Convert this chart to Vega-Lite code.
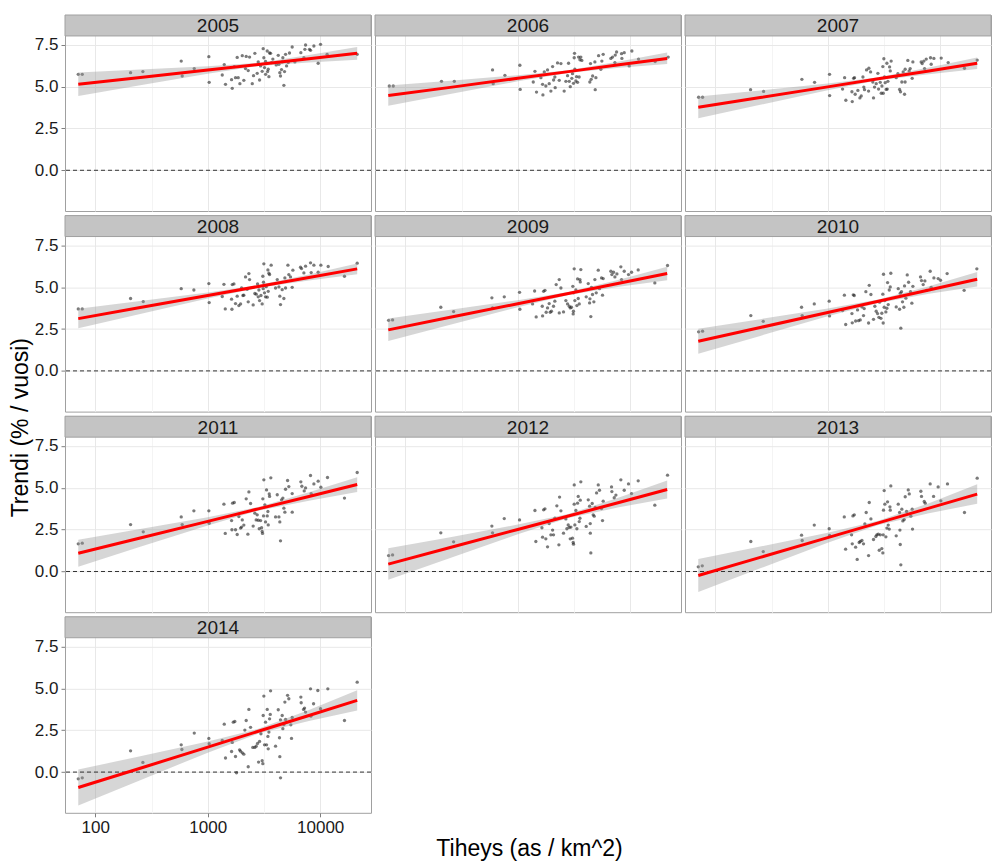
{
"$schema": "https://vega.github.io/schema/vega-lite/v6.json",
"padding": {"left": 9, "top": 14, "right": 5, "bottom": 4},
"title": {"text": "Trendi (% / vuosi)", "orient": "left", "anchor": "middle", "fontSize": 23, "fontWeight": "normal", "color": "#000000", "offset": 1, "dx": 10},
"data": {"values": [
{"year":"2005","x":70.6,"y":5.73},{"year":"2005","x":76.6,"y":5.73},{"year":"2005","x":206,"y":5.83},{"year":"2005","x":265,"y":5.89},{"year":"2005","x":581,"y":6.52},{"year":"2005","x":593,"y":5.63},{"year":"2005","x":759,"y":6.07},{"year":"2005","x":1023,"y":6.78},{"year":"2005","x":1030,"y":5.25},{"year":"2005","x":1346,"y":5.69},{"year":"2005","x":1403,"y":6.31},{"year":"2005","x":1439,"y":5.13},{"year":"2005","x":1629,"y":5.41},{"year":"2005","x":1652,"y":4.89},{"year":"2005","x":1722,"y":6.19},{"year":"2005","x":1766,"y":5.53},{"year":"2005","x":1828,"y":6.74},{"year":"2005","x":1866,"y":5.53},{"year":"2005","x":1932,"y":5.17},{"year":"2005","x":2028,"y":6.84},{"year":"2005","x":2094,"y":5.37},{"year":"2005","x":2168,"y":6.07},{"year":"2005","x":2198,"y":6.80},{"year":"2005","x":2291,"y":5.95},{"year":"2005","x":2355,"y":6.76},{"year":"2005","x":2489,"y":5.17},{"year":"2005","x":2553,"y":5.65},{"year":"2005","x":2624,"y":6.98},{"year":"2005","x":2754,"y":5.79},{"year":"2005","x":2812,"y":6.47},{"year":"2005","x":2891,"y":5.39},{"year":"2005","x":2951,"y":6.23},{"year":"2005","x":3048,"y":5.91},{"year":"2005","x":3112,"y":7.26},{"year":"2005","x":3155,"y":6.72},{"year":"2005","x":3199,"y":6.13},{"year":"2005","x":3266,"y":6.50},{"year":"2005","x":3270,"y":5.73},{"year":"2005","x":3381,"y":7.12},{"year":"2005","x":3404,"y":5.89},{"year":"2005","x":3451,"y":6.03},{"year":"2005","x":3499,"y":5.59},{"year":"2005","x":3548,"y":7.0},{"year":"2005","x":3622,"y":6.98},{"year":"2005","x":3690,"y":6.43},{"year":"2005","x":3793,"y":6.64},{"year":"2005","x":4064,"y":6.29},{"year":"2005","x":4236,"y":6.86},{"year":"2005","x":4295,"y":6.33},{"year":"2005","x":4375,"y":5.83},{"year":"2005","x":4436,"y":5.63},{"year":"2005","x":4529,"y":6.01},{"year":"2005","x":4592,"y":6.47},{"year":"2005","x":4656,"y":6.72},{"year":"2005","x":4753,"y":5.07},{"year":"2005","x":4819,"y":5.89},{"year":"2005","x":4920,"y":6.92},{"year":"2005","x":5023,"y":6.23},{"year":"2005","x":5200,"y":6.43},{"year":"2005","x":5333,"y":7.0},{"year":"2005","x":5636,"y":7.36},{"year":"2005","x":5957,"y":6.47},{"year":"2005","x":6730,"y":7.02},{"year":"2005","x":7161,"y":6.72},{"year":"2005","x":7311,"y":7.22},{"year":"2005","x":7413,"y":7.48},{"year":"2005","x":8035,"y":7.22},{"year":"2005","x":8204,"y":7.16},{"year":"2005","x":8790,"y":7.42},{"year":"2005","x":9594,"y":6.39},{"year":"2005","x":10070,"y":7.52},{"year":"2005","x":11530,"y":6.92},{"year":"2005","x":21330,"y":6.92},
{"year":"2006","x":72.1,"y":5.03},{"year":"2006","x":78.2,"y":5.03},{"year":"2006","x":210,"y":5.31},{"year":"2006","x":273,"y":5.31},{"year":"2006","x":597,"y":5.99},{"year":"2006","x":605,"y":5.17},{"year":"2006","x":769,"y":5.67},{"year":"2006","x":1045,"y":6.27},{"year":"2006","x":1052,"y":4.83},{"year":"2006","x":1374,"y":5.27},{"year":"2006","x":1422,"y":5.91},{"year":"2006","x":1469,"y":4.67},{"year":"2006","x":1607,"y":5.53},{"year":"2006","x":1663,"y":5.13},{"year":"2006","x":1675,"y":4.5},{"year":"2006","x":1722,"y":5.87},{"year":"2006","x":1778,"y":5.03},{"year":"2006","x":1841,"y":5.99},{"year":"2006","x":1905,"y":5.17},{"year":"2006","x":1972,"y":4.73},{"year":"2006","x":2042,"y":6.19},{"year":"2006","x":2084,"y":5.39},{"year":"2006","x":2138,"y":5.57},{"year":"2006","x":2153,"y":4.93},{"year":"2006","x":2259,"y":6.41},{"year":"2006","x":2339,"y":5.37},{"year":"2006","x":2421,"y":6.37},{"year":"2006","x":2588,"y":4.73},{"year":"2006","x":2679,"y":5.31},{"year":"2006","x":2773,"y":5.65},{"year":"2006","x":2831,"y":6.39},{"year":"2006","x":2871,"y":5.31},{"year":"2006","x":2931,"y":4.99},{"year":"2006","x":3027,"y":5.49},{"year":"2006","x":3069,"y":5.77},{"year":"2006","x":3133,"y":5.19},{"year":"2006","x":3177,"y":6.72},{"year":"2006","x":3199,"y":6.98},{"year":"2006","x":3221,"y":6.03},{"year":"2006","x":3289,"y":5.33},{"year":"2006","x":3334,"y":5.59},{"year":"2006","x":3404,"y":5.25},{"year":"2006","x":3475,"y":6.76},{"year":"2006","x":3516,"y":5.57},{"year":"2006","x":3573,"y":6.6},{"year":"2006","x":3639,"y":6.76},{"year":"2006","x":3715,"y":6.56},{"year":"2006","x":4375,"y":5.27},{"year":"2006","x":4436,"y":6.37},{"year":"2006","x":4498,"y":5.43},{"year":"2006","x":4634,"y":5.63},{"year":"2006","x":4853,"y":6.47},{"year":"2006","x":4887,"y":4.81},{"year":"2006","x":4955,"y":5.53},{"year":"2006","x":5236,"y":6.84},{"year":"2006","x":5483,"y":6.03},{"year":"2006","x":5598,"y":6.52},{"year":"2006","x":5754,"y":6.92},{"year":"2006","x":6730,"y":6.68},{"year":"2006","x":6966,"y":6.76},{"year":"2006","x":7311,"y":6.43},{"year":"2006","x":7362,"y":6.88},{"year":"2006","x":7568,"y":7.06},{"year":"2006","x":8375,"y":6.96},{"year":"2006","x":8433,"y":6.68},{"year":"2006","x":8851,"y":7.02},{"year":"2006","x":9795,"y":6.23},{"year":"2006","x":10350,"y":7.12},{"year":"2006","x":11860,"y":6.64},{"year":"2006","x":16670,"y":6.49},{"year":"2006","x":21780,"y":6.76},
{"year":"2007","x":71.1,"y":4.36},{"year":"2007","x":77.1,"y":4.36},{"year":"2007","x":206,"y":4.81},{"year":"2007","x":269,"y":4.71},{"year":"2007","x":589,"y":5.43},{"year":"2007","x":764,"y":5.25},{"year":"2007","x":1038,"y":5.73},{"year":"2007","x":1040,"y":4.46},{"year":"2007","x":1355,"y":4.85},{"year":"2007","x":1413,"y":5.53},{"year":"2007","x":1449,"y":4.18},{"year":"2007","x":1641,"y":4.69},{"year":"2007","x":1652,"y":4.1},{"year":"2007","x":1698,"y":5.49},{"year":"2007","x":1754,"y":4.54},{"year":"2007","x":1730,"y":5.53},{"year":"2007","x":1854,"y":4.77},{"year":"2007","x":1932,"y":4.32},{"year":"2007","x":1986,"y":4.44},{"year":"2007","x":2056,"y":5.57},{"year":"2007","x":2094,"y":4.97},{"year":"2007","x":2123,"y":4.81},{"year":"2007","x":2213,"y":5.99},{"year":"2007","x":2307,"y":4.73},{"year":"2007","x":2323,"y":6.09},{"year":"2007","x":2404,"y":5.87},{"year":"2007","x":2518,"y":5.27},{"year":"2007","x":2553,"y":4.32},{"year":"2007","x":2606,"y":4.97},{"year":"2007","x":2698,"y":5.17},{"year":"2007","x":2793,"y":5.79},{"year":"2007","x":2831,"y":4.85},{"year":"2007","x":2931,"y":5.25},{"year":"2007","x":2992,"y":4.6},{"year":"2007","x":3034,"y":5.03},{"year":"2007","x":3090,"y":6.19},{"year":"2007","x":3112,"y":4.6},{"year":"2007","x":3155,"y":6.66},{"year":"2007","x":3199,"y":5.57},{"year":"2007","x":3243,"y":5.23},{"year":"2007","x":3311,"y":4.83},{"year":"2007","x":3357,"y":6.39},{"year":"2007","x":3381,"y":4.85},{"year":"2007","x":3428,"y":5.31},{"year":"2007","x":3548,"y":6.17},{"year":"2007","x":3597,"y":5.93},{"year":"2007","x":3664,"y":6.52},{"year":"2007","x":4064,"y":5.53},{"year":"2007","x":4207,"y":5.77},{"year":"2007","x":4355,"y":4.83},{"year":"2007","x":4436,"y":4.69},{"year":"2007","x":4560,"y":5.27},{"year":"2007","x":4688,"y":5.87},{"year":"2007","x":4819,"y":4.54},{"year":"2007","x":4875,"y":5.27},{"year":"2007","x":4880,"y":6.03},{"year":"2007","x":5152,"y":6.56},{"year":"2007","x":5297,"y":5.93},{"year":"2007","x":5408,"y":6.07},{"year":"2007","x":5636,"y":5.49},{"year":"2007","x":5715,"y":6.47},{"year":"2007","x":6776,"y":6.47},{"year":"2007","x":6918,"y":6.37},{"year":"2007","x":7161,"y":6.52},{"year":"2007","x":7261,"y":6.07},{"year":"2007","x":7516,"y":6.64},{"year":"2007","x":8204,"y":6.72},{"year":"2007","x":8318,"y":6.33},{"year":"2007","x":8790,"y":6.68},{"year":"2007","x":10210,"y":6.7},{"year":"2007","x":11780,"y":6.43},{"year":"2007","x":16440,"y":6.09},{"year":"2007","x":21330,"y":6.58},
{"year":"2008","x":70.6,"y":3.70},{"year":"2008","x":76.6,"y":3.70},{"year":"2008","x":206,"y":4.32},{"year":"2008","x":267,"y":4.14},{"year":"2008","x":581,"y":4.91},{"year":"2008","x":753,"y":4.83},{"year":"2008","x":1023,"y":5.21},{"year":"2008","x":1030,"y":4.08},{"year":"2008","x":1346,"y":4.44},{"year":"2008","x":1393,"y":5.17},{"year":"2008","x":1432,"y":3.70},{"year":"2008","x":1629,"y":4.28},{"year":"2008","x":1641,"y":3.68},{"year":"2008","x":1652,"y":5.15},{"year":"2008","x":1710,"y":5.19},{"year":"2008","x":1766,"y":4.02},{"year":"2008","x":1828,"y":4.46},{"year":"2008","x":1892,"y":3.90},{"year":"2008","x":1959,"y":4.0},{"year":"2008","x":2000,"y":4.95},{"year":"2008","x":2056,"y":4.5},{"year":"2008","x":2094,"y":4.52},{"year":"2008","x":2168,"y":5.61},{"year":"2008","x":2244,"y":4.87},{"year":"2008","x":2323,"y":5.81},{"year":"2008","x":2355,"y":5.45},{"year":"2008","x":2291,"y":4.12},{"year":"2008","x":2535,"y":3.94},{"year":"2008","x":2624,"y":4.62},{"year":"2008","x":2698,"y":4.58},{"year":"2008","x":2773,"y":5.19},{"year":"2008","x":2812,"y":4.42},{"year":"2008","x":2851,"y":4.83},{"year":"2008","x":2891,"y":4.20},{"year":"2008","x":2972,"y":4.5},{"year":"2008","x":3048,"y":4.0},{"year":"2008","x":3090,"y":5.65},{"year":"2008","x":3112,"y":4.91},{"year":"2008","x":3133,"y":5.29},{"year":"2008","x":3155,"y":6.39},{"year":"2008","x":3199,"y":4.66},{"year":"2008","x":3266,"y":4.42},{"year":"2008","x":3311,"y":5.03},{"year":"2008","x":3381,"y":4.4},{"year":"2008","x":3428,"y":6.03},{"year":"2008","x":3451,"y":4.75},{"year":"2008","x":3499,"y":5.83},{"year":"2008","x":3548,"y":5.75},{"year":"2008","x":3664,"y":6.31},{"year":"2008","x":4009,"y":4.95},{"year":"2008","x":4150,"y":5.45},{"year":"2008","x":4295,"y":5.01},{"year":"2008","x":4375,"y":4.46},{"year":"2008","x":4436,"y":3.96},{"year":"2008","x":4592,"y":4.85},{"year":"2008","x":4753,"y":4.32},{"year":"2008","x":4853,"y":5.55},{"year":"2008","x":4920,"y":4.95},{"year":"2008","x":5164,"y":6.31},{"year":"2008","x":5260,"y":5.75},{"year":"2008","x":5445,"y":5.61},{"year":"2008","x":5636,"y":4.99},{"year":"2008","x":5715,"y":6.01},{"year":"2008","x":6683,"y":6.19},{"year":"2008","x":6823,"y":6.11},{"year":"2008","x":7161,"y":5.85},{"year":"2008","x":7413,"y":6.25},{"year":"2008","x":8204,"y":6.45},{"year":"2008","x":8318,"y":5.87},{"year":"2008","x":8790,"y":6.31},{"year":"2008","x":9594,"y":5.89},{"year":"2008","x":10140,"y":6.31},{"year":"2008","x":11780,"y":6.23},{"year":"2008","x":16440,"y":5.65},{"year":"2008","x":21330,"y":6.43},
{"year":"2009","x":71.1,"y":3.02},{"year":"2009","x":77.1,"y":3.04},{"year":"2009","x":207,"y":3.80},{"year":"2009","x":269,"y":3.54},{"year":"2009","x":589,"y":4.36},{"year":"2009","x":597,"y":3.76},{"year":"2009","x":759,"y":4.42},{"year":"2009","x":1038,"y":4.69},{"year":"2009","x":1045,"y":3.68},{"year":"2009","x":1355,"y":4.0},{"year":"2009","x":1413,"y":4.77},{"year":"2009","x":1459,"y":3.22},{"year":"2009","x":1652,"y":3.86},{"year":"2009","x":1663,"y":3.28},{"year":"2009","x":1698,"y":4.75},{"year":"2009","x":1746,"y":4.81},{"year":"2009","x":1791,"y":3.50},{"year":"2009","x":1841,"y":3.76},{"year":"2009","x":1905,"y":4.02},{"year":"2009","x":1945,"y":3.50},{"year":"2009","x":1995,"y":3.56},{"year":"2009","x":2080,"y":3.86},{"year":"2009","x":2138,"y":4.16},{"year":"2009","x":2198,"y":5.15},{"year":"2009","x":2339,"y":5.45},{"year":"2009","x":2340,"y":3.46},{"year":"2009","x":2421,"y":4.95},{"year":"2009","x":2553,"y":3.52},{"year":"2009","x":2679,"y":4.20},{"year":"2009","x":2773,"y":4.0},{"year":"2009","x":2871,"y":3.86},{"year":"2009","x":2931,"y":3.76},{"year":"2009","x":3006,"y":3.8},{"year":"2009","x":3090,"y":5.05},{"year":"2009","x":3112,"y":3.40},{"year":"2009","x":3133,"y":4.66},{"year":"2009","x":3177,"y":6.09},{"year":"2009","x":3130,"y":3.56},{"year":"2009","x":3221,"y":4.20},{"year":"2009","x":3289,"y":4.83},{"year":"2009","x":3357,"y":3.9},{"year":"2009","x":3404,"y":5.49},{"year":"2009","x":3451,"y":4.32},{"year":"2009","x":3524,"y":4.0},{"year":"2009","x":3573,"y":5.45},{"year":"2009","x":3639,"y":6.05},{"year":"2009","x":3597,"y":5.31},{"year":"2009","x":4064,"y":4.42},{"year":"2009","x":4236,"y":5.21},{"year":"2009","x":4355,"y":4.06},{"year":"2009","x":4385,"y":4.30},{"year":"2009","x":4467,"y":3.24},{"year":"2009","x":4529,"y":4.99},{"year":"2009","x":4624,"y":4.56},{"year":"2009","x":4753,"y":4.12},{"year":"2009","x":4853,"y":5.45},{"year":"2009","x":4989,"y":4.66},{"year":"2009","x":5200,"y":6.01},{"year":"2009","x":5333,"y":4.91},{"year":"2009","x":5559,"y":5.55},{"year":"2009","x":5675,"y":4.52},{"year":"2009","x":5754,"y":5.51},{"year":"2009","x":6730,"y":5.95},{"year":"2009","x":6871,"y":5.75},{"year":"2009","x":7112,"y":5.89},{"year":"2009","x":7311,"y":5.61},{"year":"2009","x":7621,"y":5.79},{"year":"2009","x":8260,"y":6.21},{"year":"2009","x":8375,"y":5.45},{"year":"2009","x":8851,"y":5.95},{"year":"2009","x":9661,"y":5.75},{"year":"2009","x":10280,"y":5.89},{"year":"2009","x":11780,"y":6.03},{"year":"2009","x":16560,"y":5.25},{"year":"2009","x":21480,"y":6.29},
{"year":"2010","x":71.1,"y":2.33},{"year":"2010","x":77.1,"y":2.37},{"year":"2010","x":207,"y":3.30},{"year":"2010","x":267,"y":2.96},{"year":"2010","x":585,"y":3.80},{"year":"2010","x":593,"y":3.30},{"year":"2010","x":759,"y":4.0},{"year":"2010","x":1030,"y":4.16},{"year":"2010","x":1038,"y":3.28},{"year":"2010","x":1406,"y":4.52},{"year":"2010","x":1355,"y":3.60},{"year":"2010","x":1445,"y":2.77},{"year":"2010","x":1641,"y":3.42},{"year":"2010","x":1652,"y":2.87},{"year":"2010","x":1687,"y":4.54},{"year":"2010","x":1722,"y":4.50},{"year":"2010","x":1770,"y":2.98},{"year":"2010","x":1841,"y":3.64},{"year":"2010","x":1879,"y":3.0},{"year":"2010","x":1945,"y":3.04},{"year":"2010","x":2014,"y":3.82},{"year":"2010","x":2080,"y":3.30},{"year":"2010","x":2109,"y":3.72},{"year":"2010","x":2183,"y":4.73},{"year":"2010","x":2307,"y":2.86},{"year":"2010","x":2339,"y":5.11},{"year":"2010","x":2421,"y":4.56},{"year":"2010","x":2553,"y":3.08},{"year":"2010","x":2624,"y":3.86},{"year":"2010","x":2698,"y":3.56},{"year":"2010","x":2773,"y":3.42},{"year":"2010","x":2851,"y":3.20},{"year":"2010","x":2891,"y":4.10},{"year":"2010","x":2972,"y":3.14},{"year":"2010","x":3027,"y":3.44},{"year":"2010","x":3090,"y":4.58},{"year":"2010","x":3112,"y":2.86},{"year":"2010","x":3133,"y":5.77},{"year":"2010","x":3177,"y":3.80},{"year":"2010","x":3221,"y":4.20},{"year":"2010","x":3289,"y":3.52},{"year":"2010","x":3357,"y":3.74},{"year":"2010","x":3404,"y":5.27},{"year":"2010","x":3451,"y":3.96},{"year":"2010","x":3524,"y":4.83},{"year":"2010","x":3597,"y":5.01},{"year":"2010","x":3639,"y":5.83},{"year":"2010","x":4064,"y":3.82},{"year":"2010","x":4236,"y":4.91},{"year":"2010","x":4355,"y":3.68},{"year":"2010","x":4416,"y":4.64},{"year":"2010","x":4467,"y":2.55},{"year":"2010","x":4529,"y":4.73},{"year":"2010","x":4624,"y":4.12},{"year":"2010","x":4753,"y":3.80},{"year":"2010","x":4819,"y":5.07},{"year":"2010","x":4955,"y":4.34},{"year":"2010","x":5093,"y":5.73},{"year":"2010","x":5236,"y":5.29},{"year":"2010","x":5445,"y":4.73},{"year":"2010","x":5598,"y":4.04},{"year":"2010","x":5715,"y":5.05},{"year":"2010","x":6683,"y":5.61},{"year":"2010","x":6823,"y":5.39},{"year":"2010","x":7063,"y":5.15},{"year":"2010","x":7311,"y":5.37},{"year":"2010","x":7568,"y":4.81},{"year":"2010","x":8147,"y":5.95},{"year":"2010","x":8318,"y":4.99},{"year":"2010","x":8790,"y":5.55},{"year":"2010","x":9594,"y":5.51},{"year":"2010","x":10070,"y":5.41},{"year":"2010","x":11530,"y":5.81},{"year":"2010","x":16330,"y":4.81},{"year":"2010","x":21180,"y":6.09},
{"year":"2011","x":70.6,"y":1.65},{"year":"2011","x":76.6,"y":1.69},{"year":"2011","x":206,"y":2.80},{"year":"2011","x":267,"y":2.37},{"year":"2011","x":581,"y":3.26},{"year":"2011","x":593,"y":2.80},{"year":"2011","x":753,"y":3.62},{"year":"2011","x":1023,"y":3.62},{"year":"2011","x":1030,"y":2.88},{"year":"2011","x":1393,"y":4.02},{"year":"2011","x":1432,"y":2.27},{"year":"2011","x":1629,"y":3.04},{"year":"2011","x":1641,"y":2.49},{"year":"2011","x":1663,"y":4.08},{"year":"2011","x":1722,"y":4.12},{"year":"2011","x":1766,"y":2.49},{"year":"2011","x":1828,"y":2.21},{"year":"2011","x":1892,"y":3.28},{"year":"2011","x":1959,"y":2.59},{"year":"2011","x":2000,"y":2.65},{"year":"2011","x":2028,"y":3.08},{"year":"2011","x":2094,"y":2.77},{"year":"2011","x":2198,"y":4.34},{"year":"2011","x":2275,"y":2.23},{"year":"2011","x":2323,"y":4.75},{"year":"2011","x":2404,"y":4.06},{"year":"2011","x":2535,"y":2.71},{"year":"2011","x":2624,"y":3.48},{"year":"2011","x":2698,"y":3.08},{"year":"2011","x":2754,"y":3.38},{"year":"2011","x":2812,"y":3.06},{"year":"2011","x":2871,"y":2.55},{"year":"2011","x":2951,"y":3.04},{"year":"2011","x":3013,"y":2.61},{"year":"2011","x":3048,"y":2.39},{"year":"2011","x":3069,"y":2.27},{"year":"2011","x":3090,"y":4.34},{"year":"2011","x":3133,"y":3.32},{"year":"2011","x":3155,"y":5.47},{"year":"2011","x":3221,"y":3.98},{"year":"2011","x":3266,"y":2.96},{"year":"2011","x":3334,"y":4.87},{"year":"2011","x":3381,"y":3.32},{"year":"2011","x":3428,"y":3.58},{"year":"2011","x":3451,"y":2.78},{"year":"2011","x":3524,"y":4.63},{"year":"2011","x":3548,"y":4.48},{"year":"2011","x":3639,"y":5.59},{"year":"2011","x":4009,"y":3.26},{"year":"2011","x":4150,"y":4.58},{"year":"2011","x":4295,"y":3.26},{"year":"2011","x":4375,"y":2.96},{"year":"2011","x":4436,"y":1.83},{"year":"2011","x":4529,"y":4.28},{"year":"2011","x":4656,"y":4.38},{"year":"2011","x":4753,"y":3.78},{"year":"2011","x":4853,"y":3.54},{"year":"2011","x":4920,"y":4.91},{"year":"2011","x":5129,"y":5.43},{"year":"2011","x":5260,"y":5.07},{"year":"2011","x":5636,"y":4.65},{"year":"2011","x":5640,"y":3.54},{"year":"2011","x":6730,"y":5.35},{"year":"2011","x":6871,"y":5.09},{"year":"2011","x":7211,"y":4.81},{"year":"2011","x":7413,"y":4.99},{"year":"2011","x":8204,"y":5.73},{"year":"2011","x":8318,"y":4.65},{"year":"2011","x":8790,"y":5.23},{"year":"2011","x":9594,"y":5.39},{"year":"2011","x":10140,"y":5.03},{"year":"2011","x":11610,"y":5.61},{"year":"2011","x":16440,"y":4.38},{"year":"2011","x":21330,"y":5.91},
{"year":"2012","x":71.1,"y":0.95},{"year":"2012","x":77.1,"y":0.99},{"year":"2012","x":207,"y":2.31},{"year":"2012","x":269,"y":1.77},{"year":"2012","x":589,"y":2.71},{"year":"2012","x":597,"y":2.31},{"year":"2012","x":759,"y":3.16},{"year":"2012","x":1038,"y":3.08},{"year":"2012","x":1422,"y":3.64},{"year":"2012","x":1449,"y":1.79},{"year":"2012","x":1641,"y":2.61},{"year":"2012","x":1663,"y":2.05},{"year":"2012","x":1698,"y":3.68},{"year":"2012","x":1746,"y":3.74},{"year":"2012","x":1778,"y":1.95},{"year":"2012","x":1841,"y":1.47},{"year":"2012","x":1905,"y":2.86},{"year":"2012","x":1972,"y":2.19},{"year":"2012","x":2042,"y":2.47},{"year":"2012","x":2080,"y":2.19},{"year":"2012","x":2138,"y":3.18},{"year":"2012","x":2228,"y":3.92},{"year":"2012","x":2323,"y":1.59},{"year":"2012","x":2355,"y":4.44},{"year":"2012","x":2421,"y":3.62},{"year":"2012","x":2553,"y":2.29},{"year":"2012","x":2679,"y":3.14},{"year":"2012","x":2735,"y":2.55},{"year":"2012","x":2812,"y":2.78},{"year":"2012","x":2871,"y":2.63},{"year":"2012","x":2931,"y":1.95},{"year":"2012","x":2972,"y":2.65},{"year":"2012","x":3069,"y":1.99},{"year":"2012","x":3112,"y":1.73},{"year":"2012","x":3133,"y":1.63},{"year":"2012","x":3177,"y":4.02},{"year":"2012","x":3180,"y":5.17},{"year":"2012","x":3221,"y":2.78},{"year":"2012","x":3289,"y":3.64},{"year":"2012","x":3357,"y":2.55},{"year":"2012","x":3404,"y":4.08},{"year":"2012","x":3451,"y":4.48},{"year":"2012","x":3524,"y":2.98},{"year":"2012","x":3573,"y":3.18},{"year":"2012","x":3597,"y":4.26},{"year":"2012","x":3639,"y":5.35},{"year":"2012","x":4064,"y":2.69},{"year":"2012","x":4236,"y":4.28},{"year":"2012","x":4355,"y":3.9},{"year":"2012","x":4416,"y":2.86},{"year":"2012","x":4420,"y":2.29},{"year":"2012","x":4467,"y":1.11},{"year":"2012","x":4592,"y":4.06},{"year":"2012","x":4688,"y":3.38},{"year":"2012","x":4786,"y":3.30},{"year":"2012","x":4887,"y":3.82},{"year":"2012","x":5023,"y":4.69},{"year":"2012","x":5200,"y":5.17},{"year":"2012","x":5333,"y":4.85},{"year":"2012","x":5559,"y":3.76},{"year":"2012","x":5675,"y":3.04},{"year":"2012","x":5754,"y":4.2},{"year":"2012","x":6823,"y":5.05},{"year":"2012","x":6871,"y":4.77},{"year":"2012","x":7211,"y":4.40},{"year":"2012","x":7464,"y":4.56},{"year":"2012","x":8260,"y":5.47},{"year":"2012","x":8851,"y":4.85},{"year":"2012","x":9661,"y":5.23},{"year":"2012","x":10280,"y":4.65},{"year":"2012","x":11780,"y":5.41},{"year":"2012","x":16560,"y":3.96},{"year":"2012","x":21480,"y":5.75},
{"year":"2013","x":70.6,"y":0.28},{"year":"2013","x":76.6,"y":0.34},{"year":"2013","x":207,"y":1.79},{"year":"2013","x":267,"y":1.19},{"year":"2013","x":585,"y":2.17},{"year":"2013","x":593,"y":1.85},{"year":"2013","x":759,"y":2.77},{"year":"2013","x":1030,"y":2.55},{"year":"2013","x":1038,"y":2.15},{"year":"2013","x":1403,"y":3.26},{"year":"2013","x":1442,"y":1.33},{"year":"2013","x":1629,"y":2.19},{"year":"2013","x":1652,"y":1.65},{"year":"2013","x":1675,"y":3.32},{"year":"2013","x":1722,"y":3.38},{"year":"2013","x":1770,"y":1.45},{"year":"2013","x":1828,"y":0.72},{"year":"2013","x":1905,"y":1.73},{"year":"2013","x":1945,"y":1.79},{"year":"2013","x":2014,"y":1.85},{"year":"2013","x":2080,"y":1.65},{"year":"2013","x":2138,"y":2.84},{"year":"2013","x":2198,"y":3.52},{"year":"2013","x":2307,"y":0.95},{"year":"2013","x":2339,"y":4.12},{"year":"2013","x":2421,"y":3.14},{"year":"2013","x":2553,"y":1.91},{"year":"2013","x":2679,"y":2.09},{"year":"2013","x":2735,"y":2.19},{"year":"2013","x":2812,"y":2.23},{"year":"2013","x":2871,"y":1.27},{"year":"2013","x":2931,"y":2.19},{"year":"2013","x":3027,"y":1.37},{"year":"2013","x":3090,"y":1.11},{"year":"2013","x":3112,"y":2.19},{"year":"2013","x":3133,"y":3.66},{"year":"2013","x":3177,"y":4.83},{"year":"2013","x":3221,"y":4.02},{"year":"2013","x":3289,"y":2.07},{"year":"2013","x":3357,"y":2.59},{"year":"2013","x":3404,"y":4.16},{"year":"2013","x":3451,"y":2.77},{"year":"2013","x":3524,"y":2.53},{"year":"2013","x":3573,"y":3.86},{"year":"2013","x":3597,"y":3.66},{"year":"2013","x":3639,"y":5.11},{"year":"2013","x":4064,"y":2.13},{"year":"2013","x":4236,"y":4.02},{"year":"2013","x":4355,"y":3.52},{"year":"2013","x":4385,"y":2.47},{"year":"2013","x":4416,"y":1.61},{"year":"2013","x":4467,"y":0.4},{"year":"2013","x":4560,"y":3.72},{"year":"2013","x":4656,"y":3.02},{"year":"2013","x":4786,"y":3.10},{"year":"2013","x":4887,"y":4.46},{"year":"2013","x":5023,"y":3.58},{"year":"2013","x":5200,"y":4.87},{"year":"2013","x":5309,"y":4.63},{"year":"2013","x":5483,"y":3.30},{"year":"2013","x":5636,"y":3.72},{"year":"2013","x":5675,"y":2.53},{"year":"2013","x":6730,"y":4.79},{"year":"2013","x":6823,"y":4.48},{"year":"2013","x":7211,"y":4.18},{"year":"2013","x":7362,"y":4.08},{"year":"2013","x":8147,"y":5.23},{"year":"2013","x":8730,"y":4.48},{"year":"2013","x":9594,"y":5.05},{"year":"2013","x":10140,"y":4.22},{"year":"2013","x":11610,"y":5.23},{"year":"2013","x":16440,"y":3.52},{"year":"2013","x":21330,"y":5.57},
{"year":"2014","x":70.6,"y":-0.40},{"year":"2014","x":76.6,"y":-0.34},{"year":"2014","x":206,"y":1.27},{"year":"2014","x":265,"y":0.58},{"year":"2014","x":581,"y":1.63},{"year":"2014","x":589,"y":1.35},{"year":"2014","x":759,"y":2.33},{"year":"2014","x":1023,"y":2.01},{"year":"2014","x":1030,"y":1.69},{"year":"2014","x":1346,"y":1.89},{"year":"2014","x":1403,"y":2.86},{"year":"2014","x":1439,"y":0.84},{"year":"2014","x":1629,"y":1.23},{"year":"2014","x":1652,"y":1.77},{"year":"2014","x":1687,"y":2.98},{"year":"2014","x":1742,"y":3.02},{"year":"2014","x":1766,"y":0.93},{"year":"2014","x":1803,"y":-0.04},{"year":"2014","x":1919,"y":1.33},{"year":"2014","x":1959,"y":1.25},{"year":"2014","x":2028,"y":1.15},{"year":"2014","x":2094,"y":1.07},{"year":"2014","x":2138,"y":2.51},{"year":"2014","x":2198,"y":3.08},{"year":"2014","x":2291,"y":0.32},{"year":"2014","x":2323,"y":3.74},{"year":"2014","x":2404,"y":2.67},{"year":"2014","x":2518,"y":1.47},{"year":"2014","x":2624,"y":1.47},{"year":"2014","x":2698,"y":1.55},{"year":"2014","x":2773,"y":1.71},{"year":"2014","x":2831,"y":0.60},{"year":"2014","x":2891,"y":1.83},{"year":"2014","x":2972,"y":2.29},{"year":"2014","x":3048,"y":0.68},{"year":"2014","x":3090,"y":0.50},{"year":"2014","x":3112,"y":3.38},{"year":"2014","x":3155,"y":4.54},{"year":"2014","x":3199,"y":1.63},{"year":"2014","x":3266,"y":2.98},{"year":"2014","x":3334,"y":1.63},{"year":"2014","x":3381,"y":3.74},{"year":"2014","x":3428,"y":2.13},{"year":"2014","x":3451,"y":1.39},{"year":"2014","x":3499,"y":2.39},{"year":"2014","x":3548,"y":3.18},{"year":"2014","x":3622,"y":4.85},{"year":"2014","x":3597,"y":3.44},{"year":"2014","x":4009,"y":1.55},{"year":"2014","x":4236,"y":3.72},{"year":"2014","x":4345,"y":2.05},{"year":"2014","x":4375,"y":0.92},{"year":"2014","x":4436,"y":3.12},{"year":"2014","x":4440,"y":-0.34},{"year":"2014","x":4592,"y":3.38},{"year":"2014","x":4656,"y":2.59},{"year":"2014","x":4753,"y":2.84},{"year":"2014","x":4853,"y":4.18},{"year":"2014","x":4920,"y":3.14},{"year":"2014","x":5129,"y":4.58},{"year":"2014","x":5260,"y":4.38},{"year":"2014","x":5483,"y":2.82},{"year":"2014","x":5559,"y":2.01},{"year":"2014","x":5636,"y":3.26},{"year":"2014","x":6730,"y":4.48},{"year":"2014","x":6776,"y":4.14},{"year":"2014","x":7112,"y":3.74},{"year":"2014","x":7261,"y":3.82},{"year":"2014","x":7413,"y":3.58},{"year":"2014","x":8204,"y":4.97},{"year":"2014","x":8260,"y":3.34},{"year":"2014","x":8730,"y":4.08},{"year":"2014","x":9528,"y":4.87},{"year":"2014","x":10070,"y":3.78},{"year":"2014","x":11690,"y":4.97},{"year":"2014","x":16440,"y":3.08},{"year":"2014","x":21330,"y":5.37},
{"year":"2005","x":70.6,"fit":5.13,"lo":4.43,"hi":5.84},{"year":"2005","x":251,"fit":5.54,"lo":5.07,"hi":6.01},{"year":"2005","x":1000,"fit":5.99,"lo":5.77,"hi":6.21},{"year":"2005","x":2818,"fit":6.32,"lo":6.23,"hi":6.41},{"year":"2005","x":7943,"fit":6.66,"lo":6.44,"hi":6.88},{"year":"2005","x":21330,"fit":6.98,"lo":6.60,"hi":7.36},
{"year":"2006","x":70.6,"fit":4.46,"lo":3.86,"hi":5.06},{"year":"2006","x":251,"fit":4.95,"lo":4.55,"hi":5.35},{"year":"2006","x":1000,"fit":5.49,"lo":5.31,"hi":5.68},{"year":"2006","x":2818,"fit":5.89,"lo":5.81,"hi":5.97},{"year":"2006","x":7943,"fit":6.30,"lo":6.12,"hi":6.49},{"year":"2006","x":21330,"fit":6.68,"lo":6.34,"hi":7.03},
{"year":"2007","x":70.6,"fit":3.76,"lo":3.11,"hi":4.41},{"year":"2007","x":251,"fit":4.34,"lo":3.91,"hi":4.77},{"year":"2007","x":1000,"fit":4.98,"lo":4.78,"hi":5.18},{"year":"2007","x":2818,"fit":5.46,"lo":5.37,"hi":5.55},{"year":"2007","x":7943,"fit":5.93,"lo":5.73,"hi":6.13},{"year":"2007","x":21330,"fit":6.39,"lo":6.05,"hi":6.74},
{"year":"2008","x":70.6,"fit":3.12,"lo":2.54,"hi":3.71},{"year":"2008","x":251,"fit":3.78,"lo":3.39,"hi":4.17},{"year":"2008","x":1000,"fit":4.50,"lo":4.32,"hi":4.68},{"year":"2008","x":2818,"fit":5.04,"lo":4.96,"hi":5.12},{"year":"2008","x":7943,"fit":5.58,"lo":5.40,"hi":5.76},{"year":"2008","x":21330,"fit":6.09,"lo":5.77,"hi":6.41},
{"year":"2009","x":70.6,"fit":2.45,"lo":1.78,"hi":3.13},{"year":"2009","x":251,"fit":3.20,"lo":2.75,"hi":3.65},{"year":"2009","x":1000,"fit":4.01,"lo":3.80,"hi":4.22},{"year":"2009","x":2818,"fit":4.62,"lo":4.53,"hi":4.71},{"year":"2009","x":7943,"fit":5.23,"lo":5.02,"hi":5.44},{"year":"2009","x":21330,"fit":5.81,"lo":5.41,"hi":6.21},
{"year":"2010","x":70.6,"fit":1.77,"lo":1.02,"hi":2.52},{"year":"2010","x":251,"fit":2.59,"lo":2.09,"hi":3.09},{"year":"2010","x":1000,"fit":3.49,"lo":3.26,"hi":3.72},{"year":"2010","x":2818,"fit":4.16,"lo":4.06,"hi":4.26},{"year":"2010","x":7943,"fit":4.83,"lo":4.60,"hi":5.06},{"year":"2010","x":21330,"fit":5.47,"lo":5.04,"hi":5.90},
{"year":"2011","x":70.6,"fit":1.09,"lo":0.29,"hi":1.90},{"year":"2011","x":251,"fit":2.00,"lo":1.47,"hi":2.54},{"year":"2011","x":1000,"fit":2.99,"lo":2.74,"hi":3.24},{"year":"2011","x":2818,"fit":3.74,"lo":3.63,"hi":3.85},{"year":"2011","x":7943,"fit":4.48,"lo":4.23,"hi":4.73},{"year":"2011","x":21330,"fit":5.19,"lo":4.75,"hi":5.63},
{"year":"2012","x":70.6,"fit":0.44,"lo":-0.50,"hi":1.38},{"year":"2012","x":251,"fit":1.43,"lo":0.81,"hi":2.05},{"year":"2012","x":1000,"fit":2.51,"lo":2.22,"hi":2.80},{"year":"2012","x":2818,"fit":3.31,"lo":3.19,"hi":3.43},{"year":"2012","x":7943,"fit":4.12,"lo":3.83,"hi":4.41},{"year":"2012","x":21330,"fit":4.89,"lo":4.36,"hi":5.43},
{"year":"2013","x":70.6,"fit":-0.24,"lo":-1.23,"hi":0.75},{"year":"2013","x":251,"fit":0.84,"lo":0.19,"hi":1.49},{"year":"2013","x":1000,"fit":2.02,"lo":1.72,"hi":2.32},{"year":"2013","x":2818,"fit":2.90,"lo":2.77,"hi":3.03},{"year":"2013","x":7943,"fit":3.78,"lo":3.48,"hi":4.08},{"year":"2013","x":21330,"fit":4.62,"lo":4.04,"hi":5.21},
{"year":"2014","x":70.6,"fit":-0.92,"lo":-2.00,"hi":0.16},{"year":"2014","x":251,"fit":0.23,"lo":-0.48,"hi":0.94},{"year":"2014","x":1000,"fit":1.49,"lo":1.16,"hi":1.82},{"year":"2014","x":2818,"fit":2.44,"lo":2.30,"hi":2.58},{"year":"2014","x":7943,"fit":3.38,"lo":3.05,"hi":3.71},{"year":"2014","x":21330,"fit":4.28,"lo":3.68,"hi":4.89}
]},
"vconcat": [
{"hconcat": [
{"width":306,"height":196,"transform":[{"filter":"datum.year=='2005'"}],"layer":[
{"transform":[{"filter":"datum.y!=null"}],"mark":{"type":"circle","size":11,"color":"#222222","opacity":0.6},"encoding":{"x":{"field":"x","type":"quantitative","title":null,"scale":{"type":"log","domain":[53.8,28300],"nice":false},"axis":{"values":[100,316.2278,1000,3162.278,10000],"labels":false,"ticks":false,"domain":false,"gridColor":{"condition":{"test":"datum.value!=100&&datum.value!=1000&&datum.value!=10000","value":"#f4f4f4"},"value":"#e8e8e8"}}},"y":{"field":"y","type":"quantitative","title":null,"scale":{"domain":[-2.43,9.27],"nice":false,"zero":false},"axis":{"values":[0,2.5,5,7.5],"format":".1f","labels":true,"ticks":true,"labelOverlap":false}}}},
{"transform":[{"filter":"datum.fit!=null"}],"mark":{"type":"area","color":"#999999","opacity":0.4},"encoding":{"x":{"field":"x","type":"quantitative","title":null},"y":{"field":"lo","type":"quantitative","title":null},"y2":{"field":"hi"}}},
{"transform":[{"aggregate":[{"op":"count","as":"n"}],"groupby":["year"]}],"mark":{"type":"rule","color":"#333333","strokeDash":[4,3],"strokeWidth":1},"encoding":{"y":{"datum":0}}},
{"transform":[{"filter":"datum.fit!=null"}],"mark":{"type":"line","color":"#ff0000","strokeWidth":3},"encoding":{"x":{"field":"x","type":"quantitative","title":null},"y":{"field":"fit","type":"quantitative","title":null}}},
{"transform":[{"aggregate":[{"op":"count","as":"n"}],"groupby":["year"]}],"mark":{"type":"rect","fill":"#c4c4c4","stroke":"#a0a0a0","strokeWidth":1},"encoding":{"x":{"datum":53.8},"x2":{"datum":28300},"y":{"datum":8.02},"y2":{"datum":9.27}}},
{"transform":[{"aggregate":[{"op":"count","as":"n"}],"groupby":["year"]}],"mark":{"type":"text","fontSize":19,"color":"#1a1a1a","baseline":"middle","dy":1},"encoding":{"text":{"field":"year","type":"nominal"},"x":{"datum":1234},"y":{"datum":8.645}}}
]},
{"width":306,"height":196,"transform":[{"filter":"datum.year=='2006'"}],"layer":[
{"transform":[{"filter":"datum.y!=null"}],"mark":{"type":"circle","size":11,"color":"#222222","opacity":0.6},"encoding":{"x":{"field":"x","type":"quantitative","title":null,"scale":{"type":"log","domain":[53.8,28300],"nice":false},"axis":{"values":[100,316.2278,1000,3162.278,10000],"labels":false,"ticks":false,"domain":false,"gridColor":{"condition":{"test":"datum.value!=100&&datum.value!=1000&&datum.value!=10000","value":"#f4f4f4"},"value":"#e8e8e8"}}},"y":{"field":"y","type":"quantitative","title":null,"scale":{"domain":[-2.43,9.27],"nice":false,"zero":false},"axis":{"values":[0,2.5,5,7.5],"labels":false,"ticks":false}}}},
{"transform":[{"filter":"datum.fit!=null"}],"mark":{"type":"area","color":"#999999","opacity":0.4},"encoding":{"x":{"field":"x","type":"quantitative","title":null},"y":{"field":"lo","type":"quantitative","title":null},"y2":{"field":"hi"}}},
{"transform":[{"aggregate":[{"op":"count","as":"n"}],"groupby":["year"]}],"mark":{"type":"rule","color":"#333333","strokeDash":[4,3],"strokeWidth":1},"encoding":{"y":{"datum":0}}},
{"transform":[{"filter":"datum.fit!=null"}],"mark":{"type":"line","color":"#ff0000","strokeWidth":3},"encoding":{"x":{"field":"x","type":"quantitative","title":null},"y":{"field":"fit","type":"quantitative","title":null}}},
{"transform":[{"aggregate":[{"op":"count","as":"n"}],"groupby":["year"]}],"mark":{"type":"rect","fill":"#c4c4c4","stroke":"#a0a0a0","strokeWidth":1},"encoding":{"x":{"datum":53.8},"x2":{"datum":28300},"y":{"datum":8.02},"y2":{"datum":9.27}}},
{"transform":[{"aggregate":[{"op":"count","as":"n"}],"groupby":["year"]}],"mark":{"type":"text","fontSize":19,"color":"#1a1a1a","baseline":"middle","dy":1},"encoding":{"text":{"field":"year","type":"nominal"},"x":{"datum":1234},"y":{"datum":8.645}}}
]},
{"width":306,"height":196,"transform":[{"filter":"datum.year=='2007'"}],"layer":[
{"transform":[{"filter":"datum.y!=null"}],"mark":{"type":"circle","size":11,"color":"#222222","opacity":0.6},"encoding":{"x":{"field":"x","type":"quantitative","title":null,"scale":{"type":"log","domain":[53.8,28300],"nice":false},"axis":{"values":[100,316.2278,1000,3162.278,10000],"labels":false,"ticks":false,"domain":false,"gridColor":{"condition":{"test":"datum.value!=100&&datum.value!=1000&&datum.value!=10000","value":"#f4f4f4"},"value":"#e8e8e8"}}},"y":{"field":"y","type":"quantitative","title":null,"scale":{"domain":[-2.43,9.27],"nice":false,"zero":false},"axis":{"values":[0,2.5,5,7.5],"labels":false,"ticks":false}}}},
{"transform":[{"filter":"datum.fit!=null"}],"mark":{"type":"area","color":"#999999","opacity":0.4},"encoding":{"x":{"field":"x","type":"quantitative","title":null},"y":{"field":"lo","type":"quantitative","title":null},"y2":{"field":"hi"}}},
{"transform":[{"aggregate":[{"op":"count","as":"n"}],"groupby":["year"]}],"mark":{"type":"rule","color":"#333333","strokeDash":[4,3],"strokeWidth":1},"encoding":{"y":{"datum":0}}},
{"transform":[{"filter":"datum.fit!=null"}],"mark":{"type":"line","color":"#ff0000","strokeWidth":3},"encoding":{"x":{"field":"x","type":"quantitative","title":null},"y":{"field":"fit","type":"quantitative","title":null}}},
{"transform":[{"aggregate":[{"op":"count","as":"n"}],"groupby":["year"]}],"mark":{"type":"rect","fill":"#c4c4c4","stroke":"#a0a0a0","strokeWidth":1},"encoding":{"x":{"datum":53.8},"x2":{"datum":28300},"y":{"datum":8.02},"y2":{"datum":9.27}}},
{"transform":[{"aggregate":[{"op":"count","as":"n"}],"groupby":["year"]}],"mark":{"type":"text","fontSize":19,"color":"#1a1a1a","baseline":"middle","dy":1},"encoding":{"text":{"field":"year","type":"nominal"},"x":{"datum":1234},"y":{"datum":8.645}}}
]}
], "spacing": 2},
{"hconcat": [
{"width":306,"height":196,"transform":[{"filter":"datum.year=='2008'"}],"layer":[
{"transform":[{"filter":"datum.y!=null"}],"mark":{"type":"circle","size":11,"color":"#222222","opacity":0.6},"encoding":{"x":{"field":"x","type":"quantitative","title":null,"scale":{"type":"log","domain":[53.8,28300],"nice":false},"axis":{"values":[100,316.2278,1000,3162.278,10000],"labels":false,"ticks":false,"domain":false,"gridColor":{"condition":{"test":"datum.value!=100&&datum.value!=1000&&datum.value!=10000","value":"#f4f4f4"},"value":"#e8e8e8"}}},"y":{"field":"y","type":"quantitative","title":null,"scale":{"domain":[-2.43,9.27],"nice":false,"zero":false},"axis":{"values":[0,2.5,5,7.5],"format":".1f","labels":true,"ticks":true,"labelOverlap":false}}}},
{"transform":[{"filter":"datum.fit!=null"}],"mark":{"type":"area","color":"#999999","opacity":0.4},"encoding":{"x":{"field":"x","type":"quantitative","title":null},"y":{"field":"lo","type":"quantitative","title":null},"y2":{"field":"hi"}}},
{"transform":[{"aggregate":[{"op":"count","as":"n"}],"groupby":["year"]}],"mark":{"type":"rule","color":"#333333","strokeDash":[4,3],"strokeWidth":1},"encoding":{"y":{"datum":0}}},
{"transform":[{"filter":"datum.fit!=null"}],"mark":{"type":"line","color":"#ff0000","strokeWidth":3},"encoding":{"x":{"field":"x","type":"quantitative","title":null},"y":{"field":"fit","type":"quantitative","title":null}}},
{"transform":[{"aggregate":[{"op":"count","as":"n"}],"groupby":["year"]}],"mark":{"type":"rect","fill":"#c4c4c4","stroke":"#a0a0a0","strokeWidth":1},"encoding":{"x":{"datum":53.8},"x2":{"datum":28300},"y":{"datum":8.02},"y2":{"datum":9.27}}},
{"transform":[{"aggregate":[{"op":"count","as":"n"}],"groupby":["year"]}],"mark":{"type":"text","fontSize":19,"color":"#1a1a1a","baseline":"middle","dy":1},"encoding":{"text":{"field":"year","type":"nominal"},"x":{"datum":1234},"y":{"datum":8.645}}}
]},
{"width":306,"height":196,"transform":[{"filter":"datum.year=='2009'"}],"layer":[
{"transform":[{"filter":"datum.y!=null"}],"mark":{"type":"circle","size":11,"color":"#222222","opacity":0.6},"encoding":{"x":{"field":"x","type":"quantitative","title":null,"scale":{"type":"log","domain":[53.8,28300],"nice":false},"axis":{"values":[100,316.2278,1000,3162.278,10000],"labels":false,"ticks":false,"domain":false,"gridColor":{"condition":{"test":"datum.value!=100&&datum.value!=1000&&datum.value!=10000","value":"#f4f4f4"},"value":"#e8e8e8"}}},"y":{"field":"y","type":"quantitative","title":null,"scale":{"domain":[-2.43,9.27],"nice":false,"zero":false},"axis":{"values":[0,2.5,5,7.5],"labels":false,"ticks":false}}}},
{"transform":[{"filter":"datum.fit!=null"}],"mark":{"type":"area","color":"#999999","opacity":0.4},"encoding":{"x":{"field":"x","type":"quantitative","title":null},"y":{"field":"lo","type":"quantitative","title":null},"y2":{"field":"hi"}}},
{"transform":[{"aggregate":[{"op":"count","as":"n"}],"groupby":["year"]}],"mark":{"type":"rule","color":"#333333","strokeDash":[4,3],"strokeWidth":1},"encoding":{"y":{"datum":0}}},
{"transform":[{"filter":"datum.fit!=null"}],"mark":{"type":"line","color":"#ff0000","strokeWidth":3},"encoding":{"x":{"field":"x","type":"quantitative","title":null},"y":{"field":"fit","type":"quantitative","title":null}}},
{"transform":[{"aggregate":[{"op":"count","as":"n"}],"groupby":["year"]}],"mark":{"type":"rect","fill":"#c4c4c4","stroke":"#a0a0a0","strokeWidth":1},"encoding":{"x":{"datum":53.8},"x2":{"datum":28300},"y":{"datum":8.02},"y2":{"datum":9.27}}},
{"transform":[{"aggregate":[{"op":"count","as":"n"}],"groupby":["year"]}],"mark":{"type":"text","fontSize":19,"color":"#1a1a1a","baseline":"middle","dy":1},"encoding":{"text":{"field":"year","type":"nominal"},"x":{"datum":1234},"y":{"datum":8.645}}}
]},
{"width":306,"height":196,"transform":[{"filter":"datum.year=='2010'"}],"layer":[
{"transform":[{"filter":"datum.y!=null"}],"mark":{"type":"circle","size":11,"color":"#222222","opacity":0.6},"encoding":{"x":{"field":"x","type":"quantitative","title":null,"scale":{"type":"log","domain":[53.8,28300],"nice":false},"axis":{"values":[100,316.2278,1000,3162.278,10000],"labels":false,"ticks":false,"domain":false,"gridColor":{"condition":{"test":"datum.value!=100&&datum.value!=1000&&datum.value!=10000","value":"#f4f4f4"},"value":"#e8e8e8"}}},"y":{"field":"y","type":"quantitative","title":null,"scale":{"domain":[-2.43,9.27],"nice":false,"zero":false},"axis":{"values":[0,2.5,5,7.5],"labels":false,"ticks":false}}}},
{"transform":[{"filter":"datum.fit!=null"}],"mark":{"type":"area","color":"#999999","opacity":0.4},"encoding":{"x":{"field":"x","type":"quantitative","title":null},"y":{"field":"lo","type":"quantitative","title":null},"y2":{"field":"hi"}}},
{"transform":[{"aggregate":[{"op":"count","as":"n"}],"groupby":["year"]}],"mark":{"type":"rule","color":"#333333","strokeDash":[4,3],"strokeWidth":1},"encoding":{"y":{"datum":0}}},
{"transform":[{"filter":"datum.fit!=null"}],"mark":{"type":"line","color":"#ff0000","strokeWidth":3},"encoding":{"x":{"field":"x","type":"quantitative","title":null},"y":{"field":"fit","type":"quantitative","title":null}}},
{"transform":[{"aggregate":[{"op":"count","as":"n"}],"groupby":["year"]}],"mark":{"type":"rect","fill":"#c4c4c4","stroke":"#a0a0a0","strokeWidth":1},"encoding":{"x":{"datum":53.8},"x2":{"datum":28300},"y":{"datum":8.02},"y2":{"datum":9.27}}},
{"transform":[{"aggregate":[{"op":"count","as":"n"}],"groupby":["year"]}],"mark":{"type":"text","fontSize":19,"color":"#1a1a1a","baseline":"middle","dy":1},"encoding":{"text":{"field":"year","type":"nominal"},"x":{"datum":1234},"y":{"datum":8.645}}}
]}
], "spacing": 2},
{"hconcat": [
{"width":306,"height":196,"transform":[{"filter":"datum.year=='2011'"}],"layer":[
{"transform":[{"filter":"datum.y!=null"}],"mark":{"type":"circle","size":11,"color":"#222222","opacity":0.6},"encoding":{"x":{"field":"x","type":"quantitative","title":null,"scale":{"type":"log","domain":[53.8,28300],"nice":false},"axis":{"values":[100,316.2278,1000,3162.278,10000],"labels":false,"ticks":false,"domain":false,"gridColor":{"condition":{"test":"datum.value!=100&&datum.value!=1000&&datum.value!=10000","value":"#f4f4f4"},"value":"#e8e8e8"}}},"y":{"field":"y","type":"quantitative","title":null,"scale":{"domain":[-2.43,9.27],"nice":false,"zero":false},"axis":{"values":[0,2.5,5,7.5],"format":".1f","labels":true,"ticks":true,"labelOverlap":false}}}},
{"transform":[{"filter":"datum.fit!=null"}],"mark":{"type":"area","color":"#999999","opacity":0.4},"encoding":{"x":{"field":"x","type":"quantitative","title":null},"y":{"field":"lo","type":"quantitative","title":null},"y2":{"field":"hi"}}},
{"transform":[{"aggregate":[{"op":"count","as":"n"}],"groupby":["year"]}],"mark":{"type":"rule","color":"#333333","strokeDash":[4,3],"strokeWidth":1},"encoding":{"y":{"datum":0}}},
{"transform":[{"filter":"datum.fit!=null"}],"mark":{"type":"line","color":"#ff0000","strokeWidth":3},"encoding":{"x":{"field":"x","type":"quantitative","title":null},"y":{"field":"fit","type":"quantitative","title":null}}},
{"transform":[{"aggregate":[{"op":"count","as":"n"}],"groupby":["year"]}],"mark":{"type":"rect","fill":"#c4c4c4","stroke":"#a0a0a0","strokeWidth":1},"encoding":{"x":{"datum":53.8},"x2":{"datum":28300},"y":{"datum":8.02},"y2":{"datum":9.27}}},
{"transform":[{"aggregate":[{"op":"count","as":"n"}],"groupby":["year"]}],"mark":{"type":"text","fontSize":19,"color":"#1a1a1a","baseline":"middle","dy":1},"encoding":{"text":{"field":"year","type":"nominal"},"x":{"datum":1234},"y":{"datum":8.645}}}
]},
{"width":306,"height":196,"transform":[{"filter":"datum.year=='2012'"}],"layer":[
{"transform":[{"filter":"datum.y!=null"}],"mark":{"type":"circle","size":11,"color":"#222222","opacity":0.6},"encoding":{"x":{"field":"x","type":"quantitative","title":null,"scale":{"type":"log","domain":[53.8,28300],"nice":false},"axis":{"values":[100,316.2278,1000,3162.278,10000],"labels":false,"ticks":false,"domain":false,"gridColor":{"condition":{"test":"datum.value!=100&&datum.value!=1000&&datum.value!=10000","value":"#f4f4f4"},"value":"#e8e8e8"}}},"y":{"field":"y","type":"quantitative","title":null,"scale":{"domain":[-2.43,9.27],"nice":false,"zero":false},"axis":{"values":[0,2.5,5,7.5],"labels":false,"ticks":false}}}},
{"transform":[{"filter":"datum.fit!=null"}],"mark":{"type":"area","color":"#999999","opacity":0.4},"encoding":{"x":{"field":"x","type":"quantitative","title":null},"y":{"field":"lo","type":"quantitative","title":null},"y2":{"field":"hi"}}},
{"transform":[{"aggregate":[{"op":"count","as":"n"}],"groupby":["year"]}],"mark":{"type":"rule","color":"#333333","strokeDash":[4,3],"strokeWidth":1},"encoding":{"y":{"datum":0}}},
{"transform":[{"filter":"datum.fit!=null"}],"mark":{"type":"line","color":"#ff0000","strokeWidth":3},"encoding":{"x":{"field":"x","type":"quantitative","title":null},"y":{"field":"fit","type":"quantitative","title":null}}},
{"transform":[{"aggregate":[{"op":"count","as":"n"}],"groupby":["year"]}],"mark":{"type":"rect","fill":"#c4c4c4","stroke":"#a0a0a0","strokeWidth":1},"encoding":{"x":{"datum":53.8},"x2":{"datum":28300},"y":{"datum":8.02},"y2":{"datum":9.27}}},
{"transform":[{"aggregate":[{"op":"count","as":"n"}],"groupby":["year"]}],"mark":{"type":"text","fontSize":19,"color":"#1a1a1a","baseline":"middle","dy":1},"encoding":{"text":{"field":"year","type":"nominal"},"x":{"datum":1234},"y":{"datum":8.645}}}
]},
{"width":306,"height":196,"transform":[{"filter":"datum.year=='2013'"}],"layer":[
{"transform":[{"filter":"datum.y!=null"}],"mark":{"type":"circle","size":11,"color":"#222222","opacity":0.6},"encoding":{"x":{"field":"x","type":"quantitative","title":null,"scale":{"type":"log","domain":[53.8,28300],"nice":false},"axis":{"values":[100,316.2278,1000,3162.278,10000],"labels":false,"ticks":false,"domain":false,"gridColor":{"condition":{"test":"datum.value!=100&&datum.value!=1000&&datum.value!=10000","value":"#f4f4f4"},"value":"#e8e8e8"}}},"y":{"field":"y","type":"quantitative","title":null,"scale":{"domain":[-2.43,9.27],"nice":false,"zero":false},"axis":{"values":[0,2.5,5,7.5],"labels":false,"ticks":false}}}},
{"transform":[{"filter":"datum.fit!=null"}],"mark":{"type":"area","color":"#999999","opacity":0.4},"encoding":{"x":{"field":"x","type":"quantitative","title":null},"y":{"field":"lo","type":"quantitative","title":null},"y2":{"field":"hi"}}},
{"transform":[{"aggregate":[{"op":"count","as":"n"}],"groupby":["year"]}],"mark":{"type":"rule","color":"#333333","strokeDash":[4,3],"strokeWidth":1},"encoding":{"y":{"datum":0}}},
{"transform":[{"filter":"datum.fit!=null"}],"mark":{"type":"line","color":"#ff0000","strokeWidth":3},"encoding":{"x":{"field":"x","type":"quantitative","title":null},"y":{"field":"fit","type":"quantitative","title":null}}},
{"transform":[{"aggregate":[{"op":"count","as":"n"}],"groupby":["year"]}],"mark":{"type":"rect","fill":"#c4c4c4","stroke":"#a0a0a0","strokeWidth":1},"encoding":{"x":{"datum":53.8},"x2":{"datum":28300},"y":{"datum":8.02},"y2":{"datum":9.27}}},
{"transform":[{"aggregate":[{"op":"count","as":"n"}],"groupby":["year"]}],"mark":{"type":"text","fontSize":19,"color":"#1a1a1a","baseline":"middle","dy":1},"encoding":{"text":{"field":"year","type":"nominal"},"x":{"datum":1234},"y":{"datum":8.645}}}
]}
], "spacing": 2},
{"width":306,"height":196,"transform":[{"filter":"datum.year=='2014'"}],"layer":[
{"transform":[{"filter":"datum.y!=null"}],"mark":{"type":"circle","size":11,"color":"#222222","opacity":0.6},"encoding":{"x":{"field":"x","type":"quantitative","title":"Tiheys (as / km^2)","scale":{"type":"log","domain":[53.8,28300],"nice":false},"axis":{"values":[100,316.2278,1000,3162.278,10000],"labelExpr":"(datum.value==100||datum.value==1000||datum.value==10000)?(''+datum.value):''","gridColor":{"condition":{"test":"datum.value!=100&&datum.value!=1000&&datum.value!=10000","value":"#f4f4f4"},"value":"#e8e8e8"},"tickOpacity":{"condition":{"test":"datum.value!=100&&datum.value!=1000&&datum.value!=10000","value":0},"value":1},"domain":false,"tickColor":"#7f7f7f","tickSize":4,"labelFontSize":17,"labelColor":"#1a1a1a","labelPadding":3,"labelFlush":false,"labelOverlap":false,"titleFontSize":23,"titleFontWeight":"normal","titleColor":"#000000","titleX":464,"titlePadding":2}},"y":{"field":"y","type":"quantitative","title":null,"scale":{"domain":[-2.43,9.27],"nice":false,"zero":false},"axis":{"values":[0,2.5,5,7.5],"format":".1f","labels":true,"ticks":true,"labelOverlap":false}}}},
{"transform":[{"filter":"datum.fit!=null"}],"mark":{"type":"area","color":"#999999","opacity":0.4},"encoding":{"x":{"field":"x","type":"quantitative","title":"Tiheys (as / km^2)"},"y":{"field":"lo","type":"quantitative","title":null},"y2":{"field":"hi"}}},
{"transform":[{"aggregate":[{"op":"count","as":"n"}],"groupby":["year"]}],"mark":{"type":"rule","color":"#333333","strokeDash":[4,3],"strokeWidth":1},"encoding":{"y":{"datum":0}}},
{"transform":[{"filter":"datum.fit!=null"}],"mark":{"type":"line","color":"#ff0000","strokeWidth":3},"encoding":{"x":{"field":"x","type":"quantitative","title":"Tiheys (as / km^2)"},"y":{"field":"fit","type":"quantitative","title":null}}},
{"transform":[{"aggregate":[{"op":"count","as":"n"}],"groupby":["year"]}],"mark":{"type":"rect","fill":"#c4c4c4","stroke":"#a0a0a0","strokeWidth":1},"encoding":{"x":{"datum":53.8},"x2":{"datum":28300},"y":{"datum":8.02},"y2":{"datum":9.27}}},
{"transform":[{"aggregate":[{"op":"count","as":"n"}],"groupby":["year"]}],"mark":{"type":"text","fontSize":19,"color":"#1a1a1a","baseline":"middle","dy":1},"encoding":{"text":{"field":"year","type":"nominal"},"x":{"datum":1234},"y":{"datum":8.645}}}
]}
],
"spacing": 2.6,
"config": {
"font": "Liberation Sans",
"view": {"stroke": "#a0a0a0", "strokeWidth": 1},
"axisY": {"labelFontSize": 17, "labelColor": "#1a1a1a", "tickColor": "#7f7f7f", "tickSize": 4, "labelPadding": 3, "domain": false, "gridColor": "#e8e8e8"}
}
}
